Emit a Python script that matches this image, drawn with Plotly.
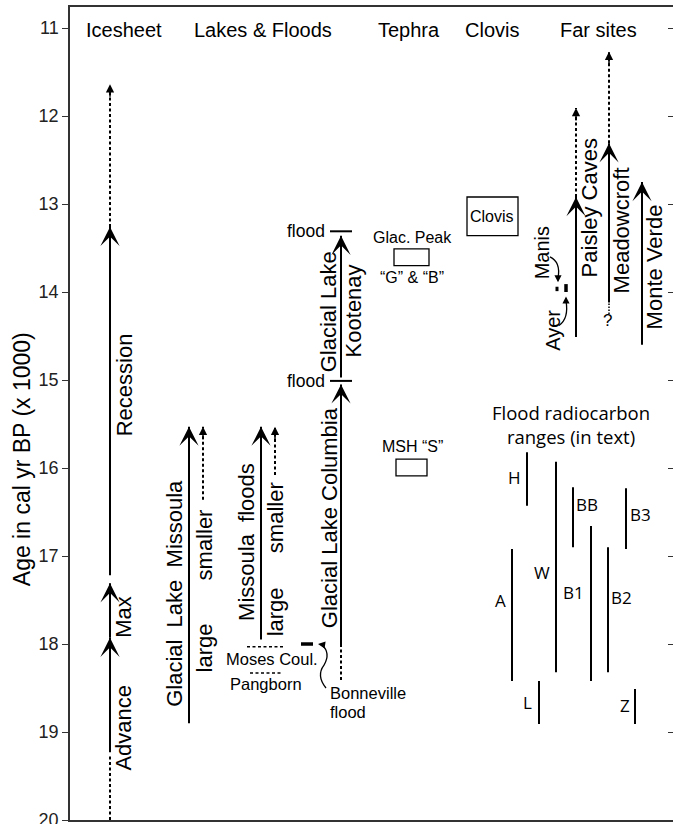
import plotly.graph_objects as go

# ---------------- data (ages in cal yr BP x 1000) ----------------
Y_TICKS = [11, 12, 13, 14, 15, 16, 17, 18, 19, 20]
HEADERS = ["Icesheet", "Lakes & Floods", "Tephra", "Clovis", "Far sites"]

ICE_ADVANCE_DOT = [20.0, 19.25]
ICE_ADVANCE = [19.23, 17.93]
ICE_MAX = [17.93, 17.31]
ICE_RECESSION = [17.22, 13.26]
ICE_RECESSION_DOT = [13.26, 11.64]

MISSOULA_LAKE = [18.90, 15.53]
MISSOULA_LAKE_SMALLER = [16.36, 15.53]
MISSOULA_FLOODS = [17.95, 15.53]
MISSOULA_FLOODS_SMALLER = [16.08, 15.53]
MOSES_COULEE = 18.03
PANGBORN = 18.33
BONNEVILLE = 18.00
COLUMBIA = [18.00, 15.05]
COLUMBIA_DOT = [18.41, 18.00]
KOOTENAY = [14.97, 13.36]
FLOOD_MARKS = [15.01, 13.31]

GLACIER_PEAK = [13.51, 13.70]
MSH_S = [15.90, 16.09]
CLOVIS = [12.92, 13.36]

PAISLEY = [14.51, 12.92]
PAISLEY_DOT = [12.92, 11.91]
MEADOWCROFT = [14.12, 12.31]
MEADOWCROFT_DOT_LOW = [14.25, 14.12]
MEADOWCROFT_DOT_UP = [12.31, 11.27]
MONTE_VERDE = [14.60, 12.75]
MANIS = [13.94, 13.99]
AYER = [13.91, 14.00]

RANGE_NAMES = ["A", "H", "L", "W", "BB", "B1", "B2", "B3", "Z"]
RANGE_YOUNG = [16.92, 15.82, 18.42, 15.93, 16.22, 16.66, 16.90, 16.23, 18.51]
RANGE_OLD = [18.42, 16.43, 18.91, 18.32, 16.90, 18.42, 18.32, 16.92, 18.91]
RANGE_LABEL_AGE = [17.50, 16.11, 18.66, 17.19, 16.42, 17.41, 17.47, 16.53, 18.70]

# ---------------- layout positions (horizontal axis units) ----------------
HEADER_X = [124, 263, 409, 492, 598]
RANGE_X = [512, 527, 539, 556, 573, 591, 608, 626, 635]
RANGE_LABEL_X = [500, 514, 527, 542, 587, 573, 621, 640, 625]

FONT = "Liberation Sans, Arial, sans-serif"
FONT2 = "Open Sans, sans-serif"
INK = "black"
ROT = 22
X0, X1 = 70, 673

fig = go.Figure()


def vline(x, ys, dash=None, width=2):
    fig.add_trace(go.Scatter(x=[x, x], y=ys, mode="lines", hoverinfo="skip",
                             line=dict(color=INK, width=width, dash=dash)))


def hline(x0, x1, y, dash=None, width=2):
    fig.add_trace(go.Scatter(x=[x0, x1], y=[y, y], mode="lines", hoverinfo="skip",
                             line=dict(color=INK, width=width, dash=dash)))


def head(x, y, big=True, up=True):
    fig.add_annotation(x=x, y=y, ax=0, ay=(14 if up else -14), axref="pixel", ayref="pixel",
                       text="", showarrow=True, arrowcolor=INK,
                       arrowhead=3 if big else 2,
                       arrowwidth=2 if big else 1.5,
                       arrowsize=1.6 if big else 1.1, standoff=0)


def txt(x, y, s, size=20, angle=0, xanchor="center", font=FONT):
    fig.add_annotation(x=x, y=y, text=s, showarrow=False, textangle=angle,
                       xanchor=xanchor, yanchor="middle",
                       font=dict(family=font, size=size, color=INK))


DOT = "3px,2.5px"
NB = "\u00a0"

# ---- Icesheet ----
vline(110, ICE_ADVANCE_DOT, DOT)
vline(110, ICE_ADVANCE)
head(110, ICE_ADVANCE[1])
vline(110, ICE_MAX)
head(110, ICE_MAX[1])
vline(110, ICE_RECESSION)
head(110, ICE_RECESSION[1])
vline(110, ICE_RECESSION_DOT, DOT)
head(110, ICE_RECESSION_DOT[1], big=False)
txt(124, 18.95, "Advance", ROT, -90)
txt(124, 17.69, "Max", ROT, -90)
txt(124, 15.06, "Recession", ROT, -90)

# ---- Lakes & Floods ----
vline(189, MISSOULA_LAKE)
head(189, MISSOULA_LAKE[1])
vline(203, MISSOULA_LAKE_SMALLER, DOT)
head(203, MISSOULA_LAKE_SMALLER[1], big=False)
txt(175, 17.43, f"Glacial{NB}{NB}Lake{NB}{NB}Missoula", ROT, -90)
txt(204, 18.05, "large", ROT, -90)
txt(204, 16.88, "smaller", ROT, -90)

vline(261, MISSOULA_FLOODS)
head(261, MISSOULA_FLOODS[1])
vline(275, MISSOULA_FLOODS_SMALLER, DOT)
head(275, MISSOULA_FLOODS_SMALLER[1], big=False)
txt(247, 16.84, f"Missoula{NB}{NB}floods", ROT, -90)
txt(275, 17.64, "large", ROT, -90)
txt(275, 16.57, "smaller", ROT, -90)

hline(247, 283, MOSES_COULEE, DOT, 1.5)
hline(250, 283, PANGBORN, DOT, 1.5)
txt(272, 18.17, "Moses Coul.", 16.5)
txt(266, 18.45, "Pangborn", 16.5)

hline(301, 313, BONNEVILLE, None, 3.5)
fig.add_shape(type="path", xref="x", yref="y",
              path="M 326 18.50 Q 316 18.36 324 18.24 Q 331 18.10 322 18.01",
              line=dict(color=INK, width=1.3))
fig.add_annotation(x=318, y=BONNEVILLE, ax=7, ay=1, axref="pixel", ayref="pixel", text="",
                   showarrow=True, arrowhead=2, arrowwidth=1.3, arrowsize=1.1, arrowcolor=INK)
txt(328, 18.56, "Bonneville", 16.5, xanchor="left")
txt(328, 18.77, "flood", 16.5, xanchor="left")

vline(341, COLUMBIA)
head(341, COLUMBIA[1])
vline(341, COLUMBIA_DOT, DOT)
txt(329, 16.57, "Glacial Lake Columbia", ROT, -90)
vline(341, KOOTENAY)
head(341, KOOTENAY[1])
txt(328, 14.23, "Glacial Lake", ROT, -90)
txt(353, 14.22, "Kootenay", ROT, -90)
for fy in FLOOD_MARKS:
    hline(330, 352, fy, None, 2)
    txt(327, fy, "flood", 17.5, xanchor="right")

# ---- Tephra ----
fig.add_shape(type="rect", xref="x", yref="y", x0=394, x1=429,
              y0=GLACIER_PEAK[0], y1=GLACIER_PEAK[1], line=dict(color=INK, width=1.3))
txt(412, 13.375, "Glac. Peak", 16)
txt(412, 13.84, "\u201cG\u201d & \u201cB\u201d", 16)
fig.add_shape(type="rect", xref="x", yref="y", x0=396, x1=427,
              y0=MSH_S[0], y1=MSH_S[1], line=dict(color=INK, width=1.3))
txt(412, 15.76, "MSH \u201cS\u201d", 16)

# ---- Clovis ----
fig.add_shape(type="rect", xref="x", yref="y", x0=467, x1=518,
              y0=CLOVIS[0], y1=CLOVIS[1], line=dict(color=INK, width=1.3))
txt(492, 13.14, "Clovis", 16)

# ---- Far sites ----
vline(576, PAISLEY)
head(576, PAISLEY[1])
vline(576, PAISLEY_DOT, DOT)
head(576, PAISLEY_DOT[1], big=False)
txt(589, 13.05, "Paisley Caves", ROT, -90)

vline(609, MEADOWCROFT)
head(609, MEADOWCROFT[1])
vline(609, MEADOWCROFT_DOT_UP, DOT)
head(609, MEADOWCROFT_DOT_UP[1], big=False)
vline(609, MEADOWCROFT_DOT_LOW, "1.5px,1.5px", 1.5)
txt(607, 14.32, "?", 17)
txt(621, 13.30, "Meadowcroft", ROT, -90)

vline(642, MONTE_VERDE)
head(642, MONTE_VERDE[1])
txt(654, 13.72, "Monte Verde", ROT, -90)

vline(557, MANIS, None, 3)
vline(566, AYER, None, 3.5)
txt(542, 13.56, "Manis", 20, -90)
txt(553, 14.44, "Ayer", 20, -90)
fig.add_shape(type="path", xref="x", yref="y",
              path="M 550 13.60 Q 561 13.66 558 13.84", line=dict(color=INK, width=1.3))
fig.add_annotation(x=558, y=13.89, ax=0, ay=-7, axref="pixel", ayref="pixel", text="",
                   showarrow=True, arrowhead=2, arrowwidth=1.3, arrowsize=1.1, arrowcolor=INK)
fig.add_shape(type="path", xref="x", yref="y",
              path="M 559 14.38 Q 569 14.30 566 14.10", line=dict(color=INK, width=1.3))
fig.add_annotation(x=566, y=14.05, ax=0, ay=7, axref="pixel", ayref="pixel", text="",
                   showarrow=True, arrowhead=2, arrowwidth=1.3, arrowsize=1.1, arrowcolor=INK)

# ---- Flood radiocarbon ranges ----
txt(571, 15.50, "Flood radiocarbon<br>ranges (in text)", 18.5, font=FONT2)
for name, x, lx, ly, y0, y1 in zip(RANGE_NAMES, RANGE_X, RANGE_LABEL_X, RANGE_LABEL_AGE,
                                     RANGE_YOUNG, RANGE_OLD):
    vline(x, [y0, y1], None, 2)
    txt(lx, ly, name, 17, font=FONT2)

# headers
for hx, h in zip(HEADER_X, HEADERS):
    txt(hx, 11.02, h, 20)

# axis title (placed left of the plot area, paper x coordinate)
fig.add_annotation(x=(22 - X0) / (X1 - X0), xref="paper", y=15.90, yref="y",
                   text="Age in cal yr BP (x 1000)", showarrow=False, textangle=-90,
                   xanchor="center", yanchor="middle",
                   font=dict(family=FONT, size=23, color=INK))

# invisible trace for right tick axis
fig.add_trace(go.Scatter(x=[None], y=[None], yaxis="y2", showlegend=False))

YR = [20, 10.761]
fig.update_layout(
    width=673, height=824,
    margin=dict(l=X0, r=0, t=7, b=4, autoexpand=False),
    plot_bgcolor="white", paper_bgcolor="white",
    showlegend=False,
    xaxis=dict(range=[X0, X1], showgrid=False, zeroline=False, showticklabels=False,
               ticks="", showline=True, mirror=True, linecolor="#333", linewidth=1.5,
               automargin=False, fixedrange=True),
    yaxis=dict(range=YR, tickvals=Y_TICKS, ticks="outside", ticklen=6, tickwidth=1.3,
               tickcolor="#333", showgrid=False, zeroline=False, showline=True,
               linecolor="#333", linewidth=1.5, automargin=False,
               ticklabeloverflow="allow",
               tickfont=dict(family=FONT, size=18, color="#222")),
    yaxis2=dict(range=YR, tickvals=Y_TICKS, overlaying="y", side="right", anchor="x",
                ticks="inside", ticklen=5, tickwidth=1.2, tickcolor="#333",
                showticklabels=False, showgrid=False, zeroline=False, showline=False,
                automargin=False),
)

fig.write_html("out.html", config={"displayModeBar": False},
               post_script="document.body.style.margin='0px';document.body.style.overflow='hidden';")
